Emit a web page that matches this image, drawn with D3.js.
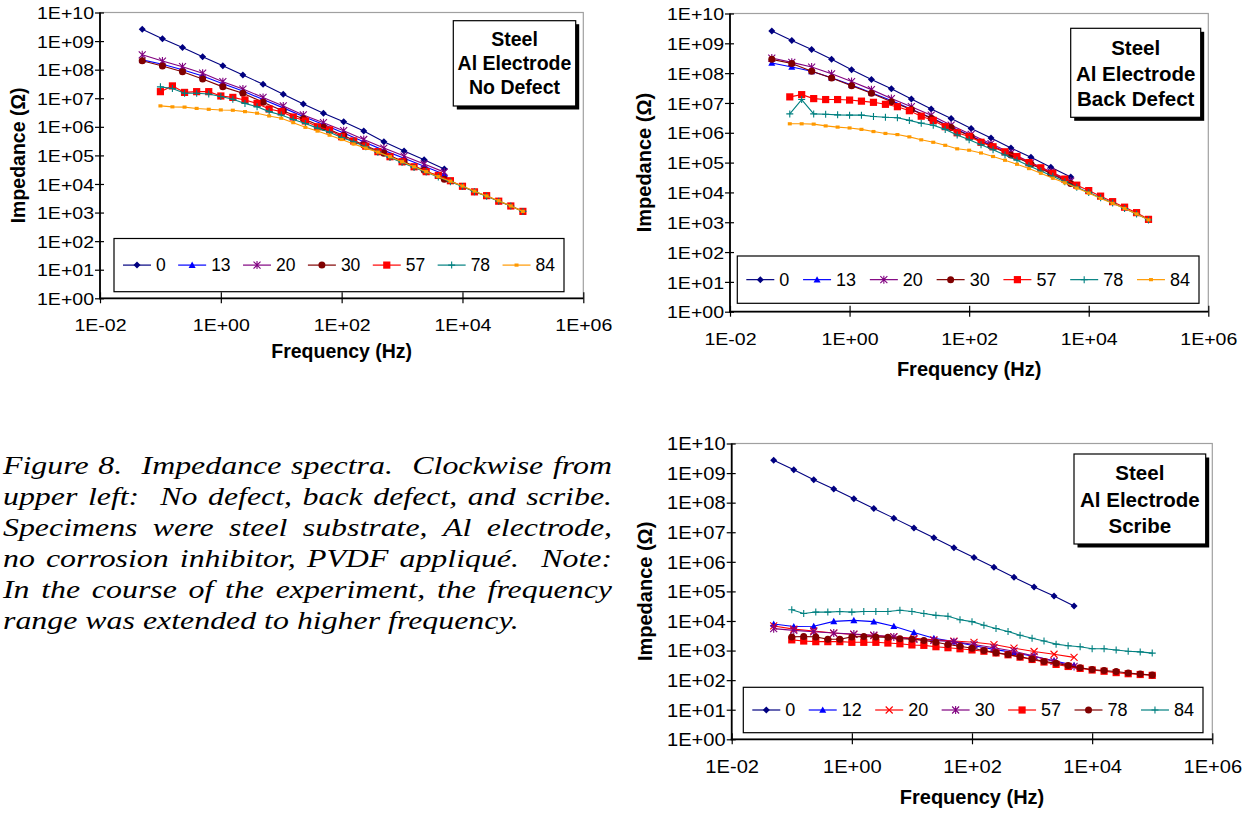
<!DOCTYPE html>
<html>
<head>
<meta charset="utf-8">
<script src="https://cdn.jsdelivr.net/npm/d3@7"></script>
<style>
body { margin: 0; background: #fff; }
svg text { font-family: Arial, "Liberation Sans", sans-serif; fill: #000; }
.caption text { font-family: "Liberation Serif", "Times New Roman", serif; font-style: italic; }
</style>
</head>
<body>
<svg id="fig" width="1244" height="813"></svg>
<script>

// frequencies (Hz): 3 points per decade for the short sweeps, 5 per decade for the long ones
const freqA = [0.05, 0.108, 0.232, 0.5, 1.08, 2.32, 5, 10.8, 23.2, 50, 108, 232, 500, 1080, 2320, 5000];
const freqB = [0.1, 0.158, 0.251, 0.398, 0.631, 1, 1.58, 2.51, 3.98, 6.31, 10, 15.8, 25.1, 39.8, 63.1,
               100, 158, 251, 398, 631, 1000, 1580, 2510, 3980, 6310, 10000, 15800, 25100, 39800, 63100, 100000];

const xTicks = [1e-2, 1e0, 1e2, 1e4, 1e6];
const yTicks = [1e0, 1e1, 1e2, 1e3, 1e4, 1e5, 1e6, 1e7, 1e8, 1e9, 1e10];

// No defect
const nd0  = [2.6e9, 1.2e9, 6.0e8, 2.85e8, 1.38e8, 6.5e7, 3.1e7, 1.38e7, 6.3e6, 3.0e6, 1.5e6, 7.1e5, 3.0e5, 1.42e5, 7.0e4, 3.35e4];
const nd13 = [2.2e8, 1.55e8, 1.0e8, 6.0e7, 3.2e7, 1.8e7, 9.0e6, 4.6e6, 2.3e6, 1.2e6, 6.1e5, 3.0e5, 1.5e5, 8.0e4, 4.2e4, 2.2e4];
const nd20 = [3.3e8, 2.0e8, 1.27e8, 7.5e7, 3.8e7, 2.1e7, 1.07e7, 5.4e6, 2.6e6, 1.4e6, 7.3e5, 3.6e5, 1.8e5, 9.5e4, 5.0e4, 2.6e4];
const nd30 = [2.05e8, 1.35e8, 8.5e7, 4.7e7, 2.5e7, 1.5e7, 7.2e6, 3.6e6, 1.9e6, 9.6e5, 5.0e5, 2.3e5, 1.2e5, 6.0e4, 3.0e4, 1.45e4];
const nd57 = [1.7e7, 2.7e7, 1.6e7, 1.7e7, 1.7e7, 1.2e7, 1.07e7, 8.7e6, 6.6e6, 4.2e6, 3.4e6, 2.2e6, 1.6e6, 1.0e6, 7.8e5,
              4.5e5, 3.2e5, 2.1e5, 1.35e5, 9.0e4, 6.0e4, 4.0e4, 2.7e4, 2.0e4, 1.3e4, 8.3e3, 5.3e3, 3.9e3, 2.5e3, 1.7e3, 1.1e3];
const nd78 = [2.5e7, 2.2e7, 1.5e7, 1.5e7, 1.4e7, 1.15e7, 9.2e6, 6.6e6, 5.0e6, 3.4e6, 2.6e6, 1.8e6, 1.3e6, 9.0e5, 6.5e5,
              4.2e5, 3.0e5, 2.0e5, 1.3e5, 8.5e4, 5.7e4, 3.8e4, 2.6e4, 1.75e4, 1.2e4, 8.2e3, 5.4e3, 3.7e3, 2.5e3, 1.7e3, 1.1e3];
const nd84 = [5.4e6, 5.0e6, 4.9e6, 4.4e6, 4.1e6, 3.9e6, 3.8e6, 3.4e6, 3.0e6, 2.4e6, 2.0e6, 1.4e6, 9.6e5, 7.1e5, 5.1e5,
              3.6e5, 2.5e5, 1.8e5, 1.3e5, 9.0e4, 6.0e4, 4.0e4, 2.7e4, 1.8e4, 1.25e4, 8.5e3, 5.6e3, 3.8e3, 2.6e3, 1.7e3, 1.1e3];

// Back defect
const bd0  = [2.6e9, 1.25e9, 6.2e8, 2.9e8, 1.3e8, 6.1e7, 3.0e7, 1.35e7, 6.3e6, 3.0e6, 1.4e6, 6.7e5, 3.1e5, 1.5e5, 7.0e4, 3.3e4];
const bd13 = [2.2e8, 1.6e8, 1.15e8, 7.0e7, 4.0e7, 2.2e7, 1.2e7, 6.2e6, 3.2e6, 1.55e6, 7.8e5, 3.8e5, 1.9e5, 9.3e4, 4.5e4, 2.2e4];
const bd20 = [3.2e8, 2.3e8, 1.6e8, 9.5e7, 5.2e7, 2.8e7, 1.4e7, 7.5e6, 3.9e6, 1.8e6, 8.8e5, 4.3e5, 2.1e5, 1.0e5, 4.9e4, 2.4e4];
const bd30 = [2.9e8, 2.1e8, 1.15e8, 6.9e7, 3.8e7, 2.1e7, 1.1e7, 6.0e6, 3.1e6, 1.5e6, 7.5e5, 3.6e5, 1.8e5, 9.0e4, 4.3e4, 2.0e4];
const bd57 = [1.6e7, 1.9e7, 1.4e7, 1.3e7, 1.3e7, 1.25e7, 1.15e7, 1.05e7, 9.0e6, 7.5e6, 5.5e6, 3.6e6, 2.6e6, 1.6e6, 1.0e6,
              7.5e5, 4.8e5, 3.4e5, 2.3e5, 1.6e5, 1.0e5, 6.7e4, 4.4e4, 2.8e4, 1.75e4, 1.15e4, 7.5e3, 4.9e3, 3.2e3, 2.1e3, 1.25e3];
const bd78 = [4.3e6, 1.3e7, 4.3e6, 4.2e6, 4.0e6, 3.9e6, 3.9e6, 3.5e6, 3.3e6, 3.2e6, 2.6e6, 2.1e6, 1.8e6, 1.3e6, 8.5e5,
              5.8e5, 4.0e5, 2.7e5, 1.8e5, 1.2e5, 7.8e4, 5.2e4, 3.5e4, 2.3e4, 1.5e4, 1.0e4, 6.6e3, 4.4e3, 2.9e3, 1.9e3, 1.2e3];
const bd84 = [2.0e6, 2.0e6, 1.95e6, 1.7e6, 1.55e6, 1.45e6, 1.3e6, 1.1e6, 9.5e5, 8.7e5, 7.3e5, 5.8e5, 4.8e5, 3.8e5, 2.9e5,
              2.6e5, 2.1e5, 1.6e5, 1.2e5, 8.8e4, 6.3e4, 4.4e4, 3.0e4, 2.1e4, 1.4e4, 9.5e3, 6.3e3, 4.3e3, 2.9e3, 1.9e3, 1.2e3];

// Scribe
const sc0  = [2.7e9, 1.3e9, 6.0e8, 2.9e8, 1.35e8, 6.3e7, 3.0e7, 1.4e7, 6.5e6, 3.0e6, 1.4e6, 6.6e5, 3.0e5, 1.4e5, 7.0e4, 3.2e4];
const sc12 = [7.9e3, 6.5e3, 6.6e3, 9.7e3, 1.05e4, 9.5e3, 6.6e3, 4.1e3, 2.6e3, 2.0e3, 1.45e3, 1.1e3, 8.5e2, 6.3e2, 4.5e2, 3.2e2];
const sc20 = [6.8e3, 5.3e3, 4.6e3, 3.9e3, 3.5e3, 3.2e3, 2.9e3, 2.6e3, 2.3e3, 2.1e3, 1.9e3, 1.6e3, 1.2e3, 9.3e2, 7.5e2, 5.9e2];
const sc30 = [5.5e3, 4.8e3, 4.3e3, 3.9e3, 3.6e3, 3.3e3, 2.9e3, 2.4e3, 2.2e3, 2.0e3, 1.6e3, 1.25e3, 9.5e2, 6.5e2, 4.3e2, 2.9e2];
const sc57 = [2.3e3, 2.1e3, 2.0e3, 2.0e3, 2.0e3, 1.9e3, 1.9e3, 1.9e3, 1.8e3, 1.7e3, 1.55e3, 1.5e3, 1.35e3, 1.25e3, 1.15e3,
              1.05e3, 9.5e2, 8.3e2, 7.2e2, 6.0e2, 5.0e2, 4.1e2, 3.4e2, 2.9e2, 2.5e2, 2.2e2, 2.0e2, 1.8e2, 1.65e2, 1.55e2, 1.45e2];
const sc78 = [2.9e3, 3.0e3, 2.9e3, 2.4e3, 2.4e3, 2.9e3, 3.0e3, 2.9e3, 2.8e3, 2.5e3, 2.4e3, 2.2e3, 1.9e3, 1.6e3, 1.4e3,
              1.2e3, 1.0e3, 8.5e2, 7.3e2, 6.2e2, 5.2e2, 4.3e2, 3.7e2, 3.1e2, 2.6e2, 2.3e2, 2.1e2, 1.95e2, 1.75e2, 1.6e2, 1.5e2];
const sc84 = [2.4e4, 1.8e4, 2.0e4, 2.0e4, 2.1e4, 2.0e4, 2.1e4, 2.1e4, 2.1e4, 2.3e4, 2.1e4, 1.8e4, 1.55e4, 1.45e4, 1.1e4,
              9.5e3, 7.2e3, 5.6e3, 4.4e3, 3.3e3, 2.6e3, 2.1e3, 1.65e3, 1.45e3, 1.35e3, 1.15e3, 1.15e3, 1.05e3, 9.5e2, 9.0e2, 8.2e2];

const captionLines = [
    "Figure 8.  Impedance spectra.  Clockwise from",
    "upper left:  No defect, back defect, and scribe.",
    "Specimens were steel substrate, Al electrode,",
    "no corrosion inhibitor, PVDF appliqué.  Note:",
    "In the course of the experiment, the frequency",
    "range was extended to higher frequency."
];

const NAVY = "#000080", BLUE = "#0000ff", PURPLE = "#800080", MAROON = "#800000",
      RED = "#ff0000", TEAL = "#008080", ORANGE = "#ff9900";

// the scanned figure is a bit wider than tall, so text gets a small horizontal stretch
const TEXT_SX = 1.15;

const charts = [
    {
        plot: {l: 100, r: 583.3, t: 12.5, b: 298.3},
        tickFs: 17, axisFs: 19.5, titleFs: 19.5, legendFs: 17.5,
        xTitleY: 358, yTitleX: 25,
        legend: {l: 114, r: 564, t: 238.5, b: 291.7},
        tbox: {l: 453.3, r: 575.7, t: 20.7, b: 106, base: [46, 70, 94]},
        titleLines: ["Steel", "Al Electrode", "No Defect"],
        series: [
            {label: "0",  x: freqA, y: nd0,  color: NAVY,   marker: "diamond"},
            {label: "13", x: freqA, y: nd13, color: BLUE,   marker: "triangle"},
            {label: "20", x: freqA, y: nd20, color: PURPLE, marker: "star"},
            {label: "30", x: freqA, y: nd30, color: MAROON, marker: "circle"},
            {label: "57", x: freqB, y: nd57, color: RED,    marker: "square"},
            {label: "78", x: freqB, y: nd78, color: TEAL,   marker: "plus"},
            {label: "84", x: freqB, y: nd84, color: ORANGE, marker: "dot"}
        ]
    },
    {
        plot: {l: 730, r: 1208.3, t: 13.5, b: 311.7},
        tickFs: 17, axisFs: 20, titleFs: 20.5, legendFs: 18,
        xTitleY: 376, yTitleX: 651,
        legend: {l: 737.3, r: 1199, t: 256, b: 303.3},
        tbox: {l: 1070.7, r: 1200.7, t: 28.3, b: 117.3, base: [55, 81, 106]},
        titleLines: ["Steel", "Al Electrode", "Back Defect"],
        series: [
            {label: "0",  x: freqA, y: bd0,  color: NAVY,   marker: "diamond"},
            {label: "13", x: freqA, y: bd13, color: BLUE,   marker: "triangle"},
            {label: "20", x: freqA, y: bd20, color: PURPLE, marker: "star"},
            {label: "30", x: freqA, y: bd30, color: MAROON, marker: "circle"},
            {label: "57", x: freqB, y: bd57, color: RED,    marker: "square"},
            {label: "78", x: freqB, y: bd78, color: TEAL,   marker: "plus"},
            {label: "84", x: freqB, y: bd84, color: ORANGE, marker: "dot"}
        ]
    },
    {
        plot: {l: 731.7, r: 1212.3, t: 443.5, b: 739.3},
        tickFs: 17.5, axisFs: 20, titleFs: 20.5, legendFs: 18,
        xTitleY: 804, yTitleX: 652,
        legend: {l: 743.3, r: 1203, t: 687.3, b: 732.7},
        tbox: {l: 1074, r: 1205.7, t: 454, b: 544, base: [480, 507, 533]},
        titleLines: ["Steel", "Al Electrode", "Scribe"],
        series: [
            {label: "0",  x: freqA, y: sc0,  color: NAVY,   marker: "diamond"},
            {label: "12", x: freqA, y: sc12, color: BLUE,   marker: "triangle"},
            {label: "20", x: freqA, y: sc20, color: RED,    marker: "x"},
            {label: "30", x: freqA, y: sc30, color: PURPLE, marker: "star"},
            {label: "57", x: freqB, y: sc57, color: RED,    marker: "square"},
            {label: "78", x: freqB, y: sc78, color: MAROON, marker: "circle"},
            {label: "84", x: freqB, y: sc84, color: TEAL,   marker: "plus"}
        ]
    }
];

const openMarkers = ["plus", "x", "star"];

function markerPath(type, r) {
    if (type === "diamond") return `M0,${-r}L${r},0L0,${r}L${-r},0Z`;
    if (type === "triangle") return `M0,${-r}L${r},${r * 0.8}L${-r},${r * 0.8}Z`;
    if (type === "square") return `M${-r},${-r}H${r}V${r}H${-r}Z`;
    if (type === "dot") return `M-2,-1.6H2V1.6H-2Z`;
    if (type === "circle") return d3.symbol(d3.symbolCircle, Math.PI * r * r)();
    if (type === "plus") return `M${-r},0H${r}M0,${-r}V${r}`;
    let x = `M${-r},${-r}L${r},${r}M${-r},${r}L${r},${-r}`;
    if (type === "x") return x;
    return x + `M0,${-r - 0.5}V${r + 0.5}`; // star
}

function markerStyle(sel, s) {
    let open = openMarkers.includes(s.marker);
    sel.attr("d", markerPath(s.marker, s.marker === "square" ? 3.6 : 3.5))
        .attr("fill", open ? "none" : s.color)
        .attr("stroke", open ? s.color : "none")
        .attr("stroke-width", 1.1);
}

function expLabel(v) {
    let e = Math.round(Math.log10(v));
    return "1E" + (e < 0 ? "-" : "+") + String(Math.abs(e)).padStart(2, "0");
}

function drawAxes(g, c, x, y) {
    let p = c.plot;

    g.append("rect")
        .attr("x", p.l).attr("y", p.t)
        .attr("width", p.r - p.l).attr("height", p.b - p.t)
        .attr("fill", "none").attr("stroke", "#a0a0a0").attr("stroke-width", 1.2);

    let yAxis = g.append("g")
        .attr("transform", `translate(${p.l},0)`)
        .call(d3.axisLeft(y).tickValues(yTicks).tickFormat(expLabel).tickSize(5));

    let xAxis = g.append("g")
        .attr("transform", `translate(0,${p.b})`)
        .call(d3.axisBottom(x).tickValues(xTicks).tickFormat(expLabel).tickSize(6).tickPadding(15));

    // cross ticks, like the spreadsheet
    yAxis.selectAll(".tick line").attr("x1", -5).attr("x2", 4);
    xAxis.selectAll(".tick line").attr("y1", -6).attr("y2", 5);

    [yAxis, xAxis].forEach((a) => {
        a.select(".domain").attr("stroke", "#000").attr("stroke-width", 1.8);
        a.selectAll(".tick line").attr("stroke", "#000").attr("stroke-width", 1.2);
        a.selectAll(".tick text")
            .style("font-family", "Arial, 'Liberation Sans', sans-serif")
            .style("font-size", c.tickFs + "px")
            .attr("fill", "#000")
            .attr("transform", `scale(${TEXT_SX},1)`);
    });
    yAxis.select(".domain").attr("d", `M0,${p.b + 1}V${p.t}`);
    xAxis.select(".domain").attr("d", `M${p.l - 1},0H${p.r}`);
    yAxis.selectAll(".tick text").attr("x", -6 / TEXT_SX).attr("dy", "0.36em");

    g.append("text")
        .attr("x", (p.l + p.r) / 2).attr("y", c.xTitleY)
        .attr("text-anchor", "middle")
        .style("font-size", c.axisFs + "px").style("font-weight", "bold")
        .text("Frequency (Hz)");

    g.append("text")
        .attr("transform", `translate(${c.yTitleX},${(p.t + p.b) / 2}) rotate(-90)`)
        .attr("text-anchor", "middle")
        .style("font-size", c.axisFs + "px").style("font-weight", "bold")
        .text("Impedance (Ω)");
}

function drawSeries(g, c, x, y) {
    let line = d3.line().x((d) => x(d[0])).y((d) => y(d[1]));

    let series = g.selectAll("g.series")
        .data(c.series)
        .enter()
        .append("g")
        .classed("series", true);

    series.append("path")
        .attr("d", (s) => line(d3.zip(s.x, s.y)))
        .attr("fill", "none")
        .attr("stroke", (s) => s.color)
        .attr("stroke-width", 1.1);

    series.each(function (s) {
        d3.select(this).selectAll("path.mk")
            .data(d3.zip(s.x, s.y))
            .enter()
            .append("path")
            .classed("mk", true)
            .attr("transform", (d) => `translate(${x(d[0])},${y(d[1])})`)
            .call(markerStyle, s);
    });
}

function drawLegend(g, c) {
    let L = c.legend;
    let cy = (L.t + L.b) / 2;
    g.append("rect")
        .attr("x", L.l).attr("y", L.t)
        .attr("width", L.r - L.l).attr("height", L.b - L.t)
        .attr("fill", "#fff").attr("stroke", "#000").attr("stroke-width", 1.2);

    let items = g.selectAll("g.legend-item")
        .data(c.series)
        .enter()
        .append("g")
        .classed("legend-item", true);

    let labels = items.append("text")
        .attr("y", cy + 6.3)
        .style("font-size", c.legendFs + "px")
        .text((s) => s.label);

    let lineLen = 28, textGap = 5, margin = 9;
    let widths = labels.nodes().map((n) => n.getComputedTextLength());
    let used = d3.sum(widths) + c.series.length * (lineLen + textGap);
    let gap = (L.r - L.l - 2 * margin - used) / (c.series.length - 1);

    let pos = L.l + margin;
    items.each(function (s, i) {
        let item = d3.select(this);
        item.insert("line", "text")
            .attr("x1", pos).attr("x2", pos + lineLen)
            .attr("y1", cy).attr("y2", cy)
            .attr("stroke", s.color).attr("stroke-width", 1.2);
        item.insert("path", "text")
            .attr("transform", `translate(${pos + lineLen / 2},${cy})`)
            .call(markerStyle, s);
        item.select("text").attr("x", pos + lineLen + textGap);
        pos += lineLen + textGap + widths[i] + gap;
    });
}

function drawTitleBox(g, c) {
    let b = c.tbox;
    g.append("rect")
        .attr("x", b.l + 3.5).attr("y", b.t + 3.5)
        .attr("width", b.r - b.l).attr("height", b.b - b.t)
        .attr("fill", "#000");
    g.append("rect")
        .attr("x", b.l).attr("y", b.t)
        .attr("width", b.r - b.l).attr("height", b.b - b.t)
        .attr("fill", "#fff").attr("stroke", "#000").attr("stroke-width", 1.2);

    g.selectAll("text.tbox")
        .data(c.titleLines)
        .enter()
        .append("text")
        .classed("tbox", true)
        .attr("x", (b.l + b.r) / 2)
        .attr("y", (d, i) => b.base[i])
        .attr("text-anchor", "middle")
        .style("font-size", c.titleFs + "px").style("font-weight", "bold")
        .text((d) => d);
}

function drawChart(svg, c) {
    let x = d3.scaleLog().domain([1e-2, 1e6]).range([c.plot.l, c.plot.r]);
    let y = d3.scaleLog().domain([1e0, 1e10]).range([c.plot.b, c.plot.t]);

    let g = svg.append("g").classed("chart", true);
    drawAxes(g, c, x, y);
    drawSeries(g, c, x, y);
    drawLegend(g, c);
    drawTitleBox(g, c);
}

// justified caption, word by word (laid out in the stretched frame)
function drawCaption(svg) {
    let sx = 1.25, left = 3, right = 612, top = 474, step = 31, fs = 25.5;
    let g = svg.append("g")
        .classed("caption", true)
        .attr("transform", `scale(${sx},1)`)
        .style("font-size", fs + "px");

    captionLines.forEach((line, i) => {
        let words = line.split(" ");
        let texts = words.map((w) => g.append("text").attr("y", top + i * step).text(w));
        let widths = texts.map((t) => t.node().getComputedTextLength());
        let last = i === captionLines.length - 1;
        let gap = last ? fs * 0.25 : ((right - left) / sx - d3.sum(widths)) / (words.length - 1);
        let xPos = left / sx;
        texts.forEach((t, j) => {
            t.attr("x", xPos);
            xPos += widths[j] + gap;
        });
    });
}

let svg = d3.select("#fig");
charts.forEach((c) => drawChart(svg, c));
drawCaption(svg);

</script>
</body>
</html>
